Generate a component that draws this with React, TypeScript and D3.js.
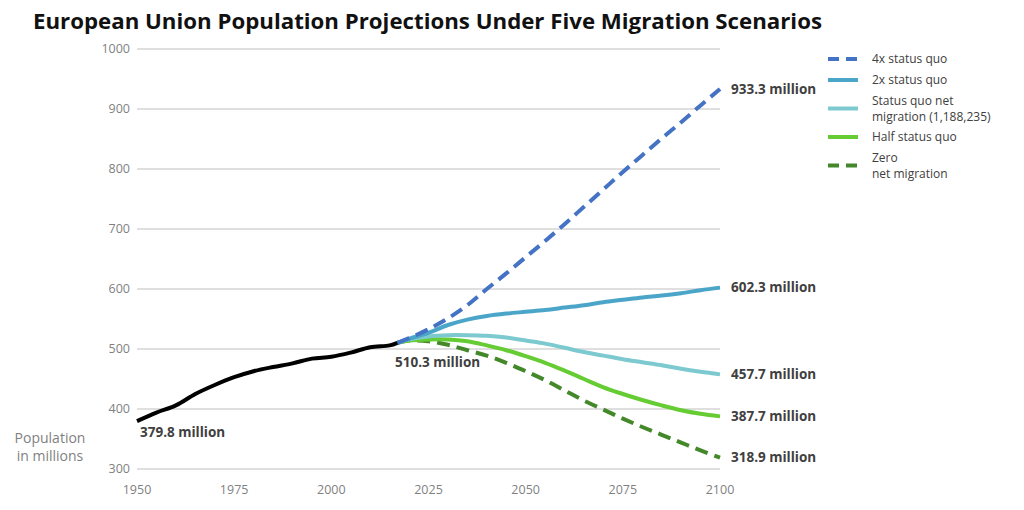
import * as d3 from 'd3';

// Historical population (millions)
const histYears = [1950, 1955, 1960, 1965, 1970, 1975, 1980, 1985, 1990, 1995, 2000, 2005, 2010, 2015, 2017];
const histValues = [379.8, 394, 406, 425, 440, 453, 463, 470, 476, 484, 487, 494, 503, 506, 510.3];

// Projection years and scenarios
const projYears = [2017, 2020, 2025, 2030, 2035, 2040, 2045, 2050, 2055, 2060, 2065, 2070, 2075, 2080, 2085, 2090, 2095, 2100];
const fourX = [510.3, 518, 533, 551, 573, 600, 626, 653, 680, 708, 737, 766, 795, 823, 851, 878, 906, 933.3];
const twoX = [510.3, 517, 527, 540, 549, 555, 559, 562, 565, 569, 573, 578, 582, 586, 589, 593, 598, 602.3];
const statusQuo = [510.3, 516, 521, 523, 523, 522, 519, 514, 509, 502, 495, 489, 483, 478, 473, 467, 462, 457.7];
const halfSQ = [510.3, 514, 516, 516, 513, 506, 498, 488, 477, 464, 450, 436, 425, 415, 406, 398, 392, 387.7];
const zeroMig = [510.3, 514, 513, 507, 498, 489, 477, 463, 448, 431, 414, 399, 384, 370, 357, 344, 331, 318.9];

const yTicks = [300, 400, 500, 600, 700, 800, 900, 1000];
const xTicks = [1950, 1975, 2000, 2025, 2050, 2075, 2100];

const scenarios = [
  { name: ['4x status quo'], values: fourX, color: '#4472c4', dash: '13 7' },
  { name: ['2x status quo'], values: twoX, color: '#4aa5c9', dash: '' },
  { name: ['Status quo net', 'migration (1,188,235)'], values: statusQuo, color: '#7ccad0', dash: '' },
  { name: ['Half status quo'], values: halfSQ, color: '#66cc33', dash: '' },
  { name: ['Zero', 'net migration'], values: zeroMig, color: '#43892a', dash: '13 7' },
];

const W = 1024;
const H = 510;
const font = '"Open Sans", "DejaVu Sans", sans-serif';

export default function App() {
  const x = d3.scaleLinear().domain([1950, 2100]).range([137, 720]);
  const y = d3.scaleLinear().domain([300, 1000]).range([469, 49]);

  const line = d3.line<[number, number]>()
    .x(d => x(d[0]))
    .y(d => y(d[1]))
    .curve(d3.curveCatmullRom.alpha(0.5));

  const histPts = histYears.map((yr, i) => [yr, histValues[i]] as [number, number]);

  // end labels for each scenario
  const endLabels = scenarios.map(s => s.values[s.values.length - 1]);
  const legendY = [59, 80, 108.5, 137, 165.5];

  return (
    <svg width={W} height={H} style={{ position: 'absolute', left: 0, top: 0, background: '#fff' }}>
      <text x={33} y={29} fontFamily={font} fontWeight={700} fontSize={21} fill="#111"
        textLength={789} lengthAdjust="spacingAndGlyphs">
        European Union Population Projections Under Five Migration Scenarios
      </text>

      {/* grid + y ticks */}
      {yTicks.map(t => (
        <g key={t}>
          <line x1={137} x2={720} y1={y(t)} y2={y(t)} stroke="#d4d4d4" strokeWidth={1.3} />
          <text x={130} y={y(t)} dy="0.35em" textAnchor="end" fontFamily={font} fontSize={12.5} fill="#7f7f7f">{t}</text>
        </g>
      ))}

      {xTicks.map(t => (
        <text key={t} x={x(t)} y={494} textAnchor="middle" fontFamily={font} fontSize={12.5} fill="#7f7f7f">{t}</text>
      ))}

      <text fontFamily={font} fontSize={14} fill="#7f7f7f" textAnchor="middle">
        <tspan x={50} y={443}>Population</tspan>
        <tspan x={50} y={461}>in millions</tspan>
      </text>

      {/* scenario lines, drawn bottom of legend first */}
      {[...scenarios].reverse().map(s => (
        <path key={s.name.join(' ')}
          d={line(projYears.map((yr, i) => [yr, s.values[i]] as [number, number])) || ''}
          fill="none" stroke={s.color} strokeWidth={4} strokeDasharray={s.dash} />
      ))}

      <path d={line(histPts) || ''} fill="none" stroke="#000" strokeWidth={4} />

      {/* value labels */}
      {endLabels.map((v, i) => (
        <text key={i} x={731} y={y(v)} dy="0.35em" fontFamily={font} fontWeight={700} fontSize={13.5} fill="#404040">
          {v.toFixed(1)} million
        </text>
      ))}
      <text x={140} y={437} fontFamily={font} fontWeight={700} fontSize={13.5} fill="#404040">
        {histValues[0].toFixed(1)} million
      </text>
      <text x={395} y={367} fontFamily={font} fontWeight={700} fontSize={13.5} fill="#404040">
        {histValues[histValues.length - 1].toFixed(1)} million
      </text>

      {/* legend */}
      {scenarios.map((s, i) => (
        <g key={i}>
          <line x1={828} x2={858} y1={legendY[i]} y2={legendY[i]} stroke={s.color} strokeWidth={4}
            strokeDasharray={s.dash ? '11 7' : ''} />
          {s.name.map((n, j) => (
            <text key={j} x={872} y={legendY[i] + (s.name.length > 1 ? (j === 0 ? -8 : 8) : 0)} dy="0.35em"
              fontFamily={font} fontSize={12} fill="#404040">{n}</text>
          ))}
        </g>
      ))}
    </svg>
  );
}
